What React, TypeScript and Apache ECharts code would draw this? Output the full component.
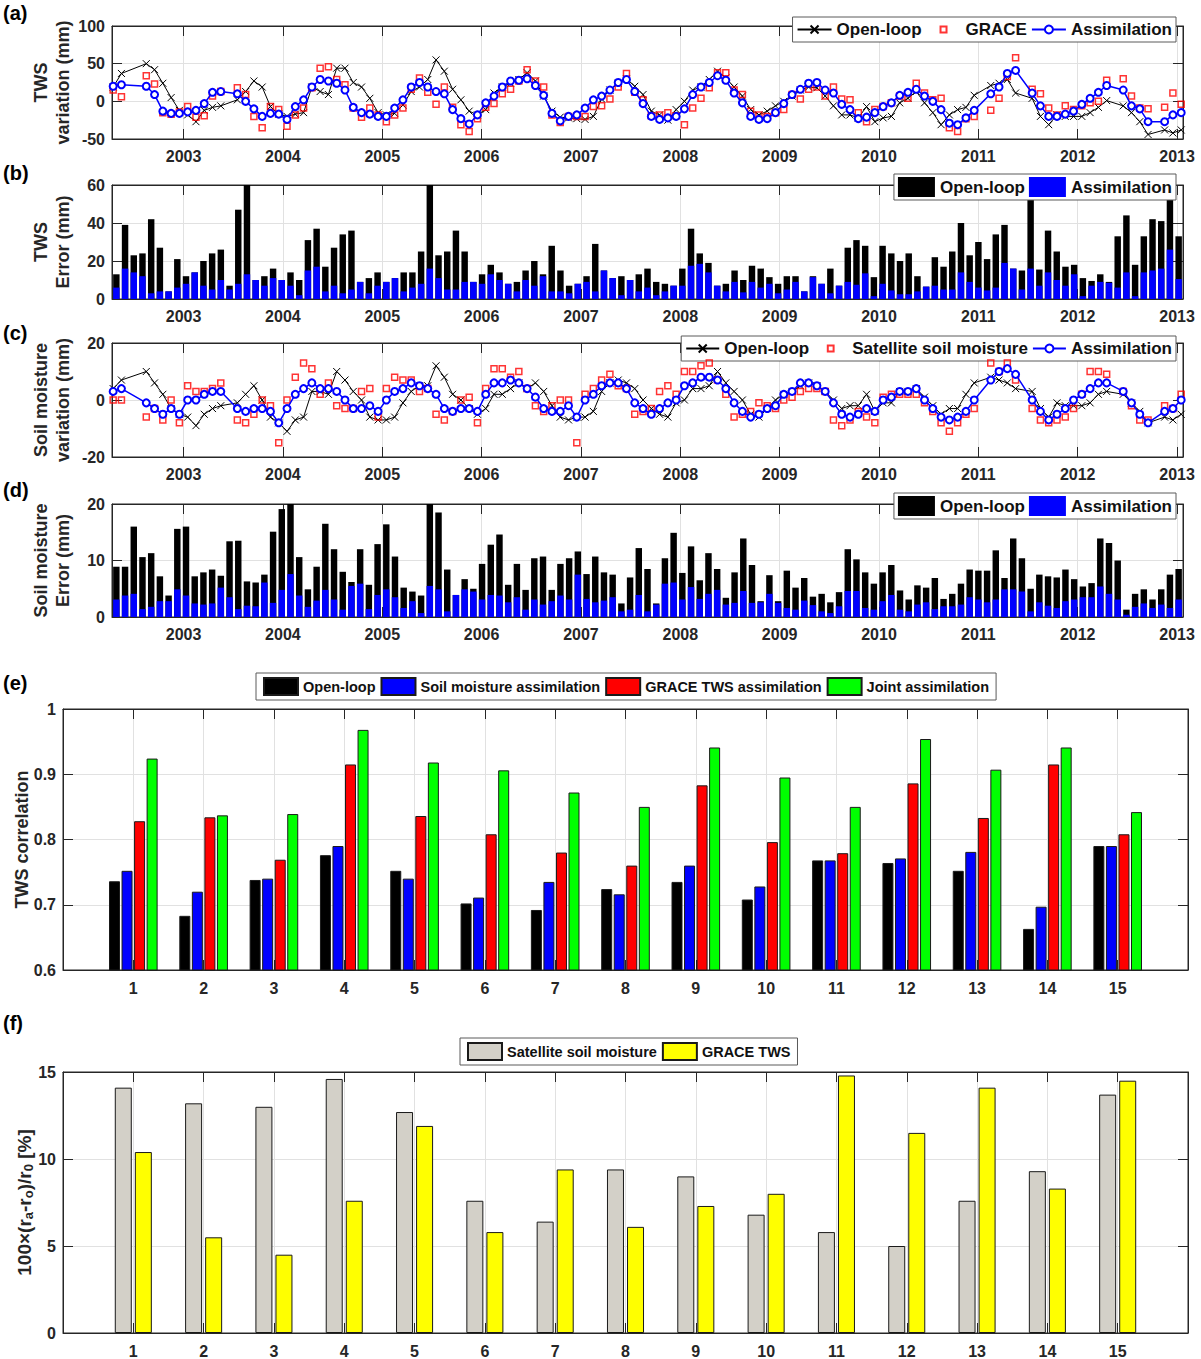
import React, { useEffect, useRef } from 'react';
import * as echarts from 'echarts';

const FONT = '"Liberation Sans", Arial, Helvetica, sans-serif';
const AX = '#262626';
const GRIDC = '#e1e1e1';

// ---------- time base ----------
const GAP_MONTHS = ['2002-06', '2002-07', '2003-06', '2011-01', '2011-06', '2012-05', '2012-10'];
function buildMonths(): string[] {
  const out: string[] = [];
  let y = 2002;
  let m = 4;
  while (y < 2013 || (y === 2013 && m <= 1)) {
    const k = `${y}-${String(m).padStart(2, '0')}`;
    if (!GAP_MONTHS.includes(k)) out.push(k);
    m++;
    if (m > 12) { m = 1; y++; }
  }
  return out;
}
const MONTHS = buildMonths();
const toYear = (k: string) => { const [y, m] = k.split('-').map(Number); return y + (m - 0.5) / 12; };
const T = MONTHS.map(toYear);
const YEAR_TICKS = [2003, 2004, 2005, 2006, 2007, 2008, 2009, 2010, 2011, 2012, 2013];
const T_MIN = 2002.28;
const T_MAX = 2013.06;

// ---------- (a) TWS variation (mm) ----------
const twsOpenLoop = [
  19, 37, 50, 42, 24, 5, -12,
  -18, -27, -12, -8, -6, 2, 13, 27, 19, -7, -17,
  -20, -17, -15, 19, 13, 9, 44, 44, 25, 19, 4, -15,
  -18, -16, -5, 13, 19, 29, 55, 40, 16, 2, -13, -18,
  -11, 11, 19, 24, 29, 38, 27, 7, -13, -21, -22, -23,
  -24, -20, 3, 15, 24, 30, 20, 9, -13, -18, -25, -11,
  0, 15, 19, 29, 40, 31, 19, 7, -11, -18, -13, -6,
  0, 7, 15, 19, 18, 7, -6, -18, -18, -22, -7, -27,
  -22, -20, -2, 4, 13, -2, -15, -31, -18, -11, -8, 8,
  21, 24, 29, 11, 4, -20, -31, -18, -20, -20,
  -20, -15, -8, 1, -6, -15, -27, -44, -38, -42,
  -38,
];
const twsGrace = [
  15, 6, 34, 23, -15, -17, -14,
  -7, -21, -19, 7, 13, 18, 9, -20, -35, -7, -11,
  -33, -18, -9, 18, 44, 46, 29, 22, -9, -21, -9, -18,
  -27, -18, -9, 16, 31, 12, -4, 19, -8, -31, -40, -23,
  -8, -3, 10, 16, 27, 42, 27, 19, -18, -28, -20, -20,
  -20, -7, -6, 3, 19, 37, 12, 2, -19, -18, -15, -19,
  -31, -9, 4, 18, 38, 38, 15, 9, -13, -18, -20, -15,
  -11, 9, 3, 16, 19, 7, 19, 3, 2, -15, -27, -11,
  -7, -2, 7, 4, 24, 11, 2, 4, -35, -40, -23, -20,
  -12, 4, 33, 58, 16, 10, -9, -18, -6, -11,
  -6, -2, 0, 28, 30, 7, -9, -10, -8, 11,
  -4,
];
const twsAssim = [
  20, 22, 20, 9, -13, -16, -16,
  -14, -12, -3, 12, 13, 10, 0, -10, -20, -16, -17,
  -24, -7, 2, 19, 29, 27, 24, 15, -8, -15, -17, -20,
  -20, -9, 2, 19, 25, 19, 13, 10, -11, -23, -30, -18,
  -2, 7, 19, 27, 28, 30, 21, 8, -16, -26, -20, -18,
  -9, 2, 7, 15, 25, 29, 13, -3, -20, -24, -22, -20,
  -10, 9, 19, 25, 34, 28, 11, -2, -20, -24, -23, -15,
  -3, 9, 16, 24, 25, 15, 11, -4, -11, -23, -21, -15,
  -7, -2, 8, 12, 16, 7, 0, -11, -29, -31, -22, -12,
  10, 19, 37, 41, 11, -6, -20, -20, -17, -13,
  -4, 4, 12, 21, 15, -6, -10, -27, -27, -18,
  -15,
];

// ---------- (b) TWS error (mm) ----------
const twsErrOpenLoop = [
  13, 39, 23, 24, 42, 27, 4, 21, 12, 14, 20, 24, 26, 7, 47, 65, 10, 12, 16, 10,
  14, 10, 31, 37, 17, 27, 34, 36, 9, 11, 14, 9, 11, 14, 14, 25, 65, 23, 25, 36,
  25, 9, 13, 18, 14, 8, 9, 15, 20, 13, 28, 15, 7, 8, 12, 29,
  15, 11, 12, 10, 13, 16, 9, 8, 7, 16, 37, 24, 19, 7, 8, 15, 10, 17.5, 16, 11.5,
  8, 12, 12, 4, 12, 8, 16, 7, 27, 31, 28, 11.5, 28, 24, 20, 24, 12, 6.5, 22, 17,
  25, 40, 23, 30, 21, 34, 39, 16, 15, 65, 15.5, 36, 25, 17, 18, 11, 9.5, 13, 9, 33,
  44, 18, 33, 42, 41, 65, 33,
];
const twsErrAssim = [
  6, 16, 14, 12, 3, 4, 4, 6, 8, 14, 7, 5, 10, 5, 8, 13, 10, 7, 11, 10,
  7, 2, 15, 17, 4, 7, 3, 5, 9, 3, 7, 9, 11, 4, 6, 8, 16, 11, 5, 5,
  9, 9, 8, 13, 10, 8, 4, 10, 7, 12, 4, 4, 3, 8, 9, 4,
  15, 11, 2, 10, 4, 6, 2, 4, 7, 7, 17.5, 18.5, 14, 7, 4, 9, 3.5, 9, 6, 8,
  3, 5, 9, 4, 11.5, 8, 3, 7, 9, 7.5, 13.5, 1.5, 8, 4.5, 2.5, 2.5, 4, 6.5, 7, 5,
  5, 14, 9, 6, 4.5, 6, 19, 16, 5, 16, 7, 14, 10, 7, 13, 1.5, 7, 9, 8.5, 6,
  14, 1.5, 14, 15, 16, 26, 10.5,
];

// ---------- (c) Soil moisture variation (mm) ----------
const smOpenLoop = [
  4, 7, 10, 6, 2, -3, -5,
  -6, -9, -5, -3, -2, -1, 2, 5, 0, -6, -8,
  -11, -7, -6, 3, 3, 2, 10, 7, 3, 0, -6, -7,
  -7, -6, -1, 3, 5, 5, 12, 8, 2, 0, -3, -5,
  -3, 2, 2, 4, 6, 4, 6, 3, -2, -6, -7, -6,
  -6, -4, 3, 6, 7, 6, 4, 0, -3, -5, -6, -1,
  0, 4, 4, 5, 10, 6, 3, 0, -5, -6, -3, 0,
  2, 3, 5, 6, 5, 3, 0, -3, -2, -2, 2, -4,
  -1, -1, 3, 3, 4, 1, -2, -5, -3, -3, 2, 6,
  8, 7, 6, 4, 3, -3, -6, -1, -2, -2,
  -2, -1, 2, 3, 2, -1, -4, -8, -6, -7,
  -5,
];
const smSatellite = [
  0, 0, -6, -3, -7, 0, -8,
  5, 3, 3, 4, 6, -7, -8, -5, 0, -2, -15,
  0, 8, 13, 11, 2, 6, -2, -3, -3, 3, 4, -6,
  4, 8, 7, 7, 3, 4, -5, -7, -4, 0, 1, -8,
  4, 11, 11, 8, 10, 4, -2, -4, -2, 0, 0, -15,
  2, 4, 7, 9, 5, 4, -5, -4, -3, 3, 5, 2,
  10, 10, 12, 13, 7, 2, -6, -5, -4, -1, -2, -3,
  0, 1, 3, 4, 4, 3, -7, -9, -7, -4, -6, -8,
  1, 2, 2, 2, 2, -1, -4, -8, -11, -8, -5, -3,
  13, 10, 13, 7, -3, -7, -8, -7, -6, -3,
  2, 10, 10, 9, 3, -2, -7, -7, -2, -3,
  2,
];
const smAssim = [
  3, 4, -1, -3, -5, -3, -5,
  0, 0, 2, 3, 3, -3, -4, -3, -3, -4, -8,
  -3, 2, 4, 6, 4, 4, 3, 0, -3, -3, -2, -4,
  0, 3, 4, 6, 5, 4, 2, -3, -4, -3, -3, -4,
  2, 6, 6, 7, 6, 4, 1, -3, -4, -4, -2, -6,
  0, 2, 5, 6, 6, 4, -1, -3, -5, -3, -1, 0,
  5, 6, 8, 8, 7, 4, -1, -4, -6, -5, -3, -2,
  2, 3, 6, 6, 5, 3, -1, -5, -6, -5, -3, -4,
  0, 1, 3, 3, 4, 0, -3, -6, -7, -6, -4, 0,
  7, 10, 11, 9, 0, -4, -7, -5, -3, 0,
  2, 4, 6, 6, 3, -1, -5, -8, -4, -3,
  0,
];

// ---------- (d) Soil moisture error (mm) ----------
const smErrOpenLoop = [
  8.9, 8.9, 16, 10.6, 11.3, 7.2, 3.8, 15.6, 16, 7.2, 7.9, 8.4, 7.3, 13.4, 13.5, 6.3, 6.1, 7.5, 15.1, 19.1,
  21, 10.6, 4.9, 8.9, 16.5, 12, 8, 6.2, 12, 5.7, 12.9, 16.4, 10.7, 5.2, 4.5, 3.8, 21, 18.5, 8.4, 3.9,
  6.7, 5, 9.4, 12.8, 14.6, 5.7, 9.4, 4.8, 10.4, 10.7, 4.8, 9.4, 10.4, 11.6, 7.6, 10.7,
  7.9, 7.5, 2.4, 7, 12.2, 8.5, 2.4, 10.4, 14.9, 7.8, 12.5, 6.5, 11.3, 8.5, 3.4, 7.9, 13.9, 9.2, 2.8, 7.4,
  2.8, 8.2, 5.2, 6.9, 3.6, 4.1, 2.6, 4.4, 12, 10.2, 7.9, 5.9, 7.9, 9.2, 4.7, 3.1, 5.6, 5.2, 6.9, 3.2,
  4.1, 5.9, 8.4, 8.2, 8.2, 11.8, 6.9, 13.9, 10.4, 5, 7.5, 7.2, 7, 8.4, 6.7, 5.4, 6, 13.9, 13.1, 10,
  1.3, 4.1, 4.9, 3.1, 4.9, 7.5, 8.5,
];
const smErrAssim = [
  3.1, 3.8, 4.1, 1.4, 1.8, 2.8, 2.8, 4.9, 3.8, 2.4, 2.2, 2.4, 5.2, 3.5, 1.4, 2, 1.9, 6.1, 2.5, 4.8,
  7.6, 3.8, 1.8, 2.9, 4.8, 3.1, 1.3, 5.5, 5.9, 1.4, 3.9, 4.9, 3.5, 1.6, 2.8, 0.7, 5.5, 4.9, 1, 3.9,
  4.9, 4.5, 3.1, 3.9, 3.8, 2.6, 3.5, 1.3, 3.1, 2.2, 2.8, 3.8, 3.1, 7.5, 3.2, 2.6,
  2.9, 3.5, 1, 1.3, 3.9, 1, 2.2, 5.9, 6.1, 3.1, 5.3, 3.2, 4.1, 4.8, 2.2, 2.5, 4.6, 2.5, 2.6, 4.1,
  2.5, 1.6, 1.3, 2.9, 2.1, 1, 0.7, 1.9, 4.6, 4.6, 1.6, 1.3, 2.8, 3.9, 1.3, 1, 2.2, 2.6, 1.4, 1.9,
  1.9, 2.2, 3.5, 3.1, 2.6, 3.1, 4.9, 4.9, 4.5, 1, 2.6, 2, 1.6, 2.8, 3.1, 3.5, 3.5, 5.4, 4.1, 3.1,
  0.4, 1.8, 2.4, 1.6, 2.2, 1.6, 3.1,
];

// ---------- (e) TWS correlation per basin ----------
const BASINS = ['1', '2', '3', '4', '5', '6', '7', '8', '9', '10', '11', '12', '13', '14', '15'];
const corrOpenLoop = [0.736, 0.683, 0.738, 0.776, 0.752, 0.702, 0.692, 0.724, 0.735, 0.708, 0.768, 0.764, 0.752, 0.663, 0.790];
const corrSoilAssim = [0.752, 0.720, 0.740, 0.790, 0.740, 0.711, 0.735, 0.716, 0.760, 0.728, 0.768, 0.771, 0.781, 0.697, 0.790];
const corrGraceAssim = [0.828, 0.834, 0.769, 0.915, 0.836, 0.808, 0.780, 0.760, 0.883, 0.796, 0.779, 0.886, 0.833, 0.915, 0.808];
const corrJoint = [0.924, 0.837, 0.839, 0.968, 0.918, 0.906, 0.872, 0.850, 0.941, 0.895, 0.850, 0.954, 0.907, 0.941, 0.842];

// ---------- (f) relative improvement (%) ----------
const imprSatellite = [14.1, 13.2, 13.0, 14.6, 12.7, 7.6, 6.4, 9.4, 9.0, 6.8, 5.8, 5.0, 7.6, 9.3, 13.7];
const imprGrace = [10.4, 5.5, 4.5, 7.6, 11.9, 5.8, 9.4, 6.1, 7.3, 8.0, 14.8, 11.5, 14.1, 8.3, 14.5];

// ---------- helpers ----------
const tickFont = (size: number) => ({ fontFamily: FONT, fontWeight: 'bold', fontSize: size, color: AX });
const nameFont = (size: number, extra: any = {}) => ({ fontFamily: FONT, fontWeight: 'bold', fontSize: size, color: AX, lineHeight: 22, ...extra });
const axisLine = { show: true, onZero: false, lineStyle: { color: AX, width: 1 } };

function timeAxes(gridIndex: number) {
  return [
    {
      type: 'value', gridIndex, position: 'bottom', min: T_MIN, max: T_MAX,
      axisLine,
      axisTick: { show: true, inside: true, length: 10, customValues: YEAR_TICKS, lineStyle: { color: AX } },
      axisLabel: { show: true, customValues: YEAR_TICKS, formatter: (v: number) => String(Math.round(v)), margin: 9, ...tickFont(16) },
      splitLine: { show: true, lineStyle: { color: GRIDC, width: 1 } },
    },
    {
      type: 'value', gridIndex, position: 'top', min: T_MIN, max: T_MAX,
      axisLine,
      axisTick: { show: true, inside: true, length: 10, customValues: YEAR_TICKS, lineStyle: { color: AX } },
      axisLabel: { show: false },
      splitLine: { show: false },
    },
  ];
}
function hiddenCat(gridIndex: number, data: string[]) {
  return { type: 'category', gridIndex, data, show: false, boundaryGap: true, axisTick: { show: false }, axisLabel: { show: false }, axisLine: { show: false }, splitLine: { show: false } };
}
function basinAxes(gridIndex: number) {
  const cats = ['0', ...BASINS, '16'];
  const base = { type: 'category', gridIndex, data: cats, boundaryGap: false };
  return [
    {
      ...base, position: 'bottom', axisLine,
      axisTick: { show: true, inside: true, length: 10, interval: 0, lineStyle: { color: AX } },
      axisLabel: { show: true, interval: 0, margin: 10, formatter: (v: string) => (v === '0' || v === '16' ? '' : v), ...tickFont(16) },
      splitLine: { show: true, interval: 0, lineStyle: { color: GRIDC } },
    },
    {
      ...base, position: 'top', axisLine,
      axisTick: { show: true, inside: true, length: 10, interval: 0, lineStyle: { color: AX } },
      axisLabel: { show: false }, splitLine: { show: false },
    },
  ];
}
function yAxes(gridIndex: number, min: number, max: number, interval: number, name: string, nameGap: number, nameStyle: any, labelSize = 16) {
  return [
    {
      type: 'value', gridIndex, position: 'left', min, max, interval,
      axisLine,
      axisTick: { show: true, inside: true, length: 10, lineStyle: { color: AX } },
      axisLabel: { show: true, margin: 7, ...tickFont(labelSize) },
      splitLine: { show: true, lineStyle: { color: GRIDC } },
      name, nameLocation: 'middle', nameRotate: 90, nameGap, nameMoveOverlap: false,
      nameTextStyle: nameStyle,
    },
    {
      type: 'value', gridIndex, position: 'right', min, max, interval,
      axisLine,
      axisTick: { show: true, inside: true, length: 10, lineStyle: { color: AX } },
      axisLabel: { show: false }, splitLine: { show: false },
    },
  ];
}

const CROSS = 'path://M0,0L10,10M10,0L0,10';
const SQUARE_ICON = 'path://M0,0M34,10M14,2h6v6h-6z';
const pairs = (vals: number[]) => T.map((t, i) => [t, vals[i]]);

function olLine(name: string, xi: number, yi: number, vals: number[]) {
  return {
    name, type: 'line', xAxisIndex: xi, yAxisIndex: yi, data: pairs(vals),
    symbol: CROSS, symbolSize: 7, showAllSymbol: true,
    lineStyle: { color: '#000', width: 1 },
    itemStyle: { color: '#000', borderColor: '#000', borderWidth: 1 },
    z: 3,
  };
}
function obsScatter(name: string, xi: number, yi: number, vals: number[]) {
  return {
    name, type: 'scatter', xAxisIndex: xi, yAxisIndex: yi, data: pairs(vals),
    symbol: 'rect', symbolSize: 6,
    itemStyle: { color: 'rgba(0,0,0,0)', borderColor: '#ff0000', borderWidth: 1.5 },
    z: 4,
  };
}
function asLine(name: string, xi: number, yi: number, vals: number[]) {
  return {
    name, type: 'line', xAxisIndex: xi, yAxisIndex: yi, data: pairs(vals),
    symbol: 'emptyCircle', symbolSize: 7, showAllSymbol: true,
    lineStyle: { color: '#0000ff', width: 1.5 },
    itemStyle: { color: '#0000ff', borderWidth: 1.2 },
    z: 5,
  };
}
function errBar(name: string, xi: number, yi: number, vals: number[], color: string) {
  return {
    name, type: 'bar', xAxisIndex: xi, yAxisIndex: yi, data: vals,
    barWidth: '74%', barGap: '-100%',
    itemStyle: { color },
  };
}
function basinBar(name: string, xi: number, yi: number, vals: number[], color: string, width: number, gap: string) {
  return {
    name, type: 'bar', xAxisIndex: xi, yAxisIndex: yi, data: [null, ...vals, null],
    barWidth: width, barGap: gap,
    itemStyle: { color, borderColor: '#1a1a1a', borderWidth: 1 },
  };
}

const legendBase = (size: number) => ({
  orient: 'horizontal', backgroundColor: '#fff', borderColor: '#5a5a5a', borderWidth: 1, borderRadius: 0,
  selectedMode: false, formatter: (n: string) => n.slice(2),
  textStyle: { fontFamily: FONT, fontWeight: 'bold', fontSize: size, color: '#111' },
});

function buildOption() {
  const xAxis = [
    ...timeAxes(0),                 // 0,1  (a)
    hiddenCat(1, MONTHS),           // 2    (b) bars
    ...timeAxes(1),                 // 3,4  (b)
    ...timeAxes(2),                 // 5,6  (c)
    hiddenCat(3, MONTHS),           // 7    (d) bars
    ...timeAxes(3),                 // 8,9  (d)
    ...basinAxes(4),                // 10,11 (e)
    ...basinAxes(5),                // 12,13 (f)
  ];
  const yAxis = [
    ...yAxes(0, -50, 100, 50, 'TWS\nvariation (mm)', 38, nameFont(18)),
    ...yAxes(1, 0, 60, 20, 'TWS\nError (mm)', 38, nameFont(18)),
    ...yAxes(2, -20, 20, 20, 'Soil moisture\nvariation (mm)', 38, nameFont(18)),
    ...yAxes(3, 0, 20, 10, 'Soil moisture\nError (mm)', 38, nameFont(18)),
    ...yAxes(4, 0.6, 1, 0.1, 'TWS correlation', 30, nameFont(18), 16),
    ...yAxes(5, 0, 15, 5, '100×(r{s|a}-r{s|o})/r{s|0} [%]', 28,
      nameFont(19, { rich: { s: { fontFamily: FONT, fontWeight: 'bold', fontSize: 13, color: AX, verticalAlign: 'bottom', lineHeight: 22, padding: [7, 0, 0, 0] } } }), 16),
  ];

  const series: any[] = [
    olLine('a:Open-loop', 0, 0, twsOpenLoop),
    obsScatter('a:GRACE', 0, 0, twsGrace),
    asLine('a:Assimilation', 0, 0, twsAssim),
    errBar('b:Open-loop', 2, 2, twsErrOpenLoop, '#000000'),
    errBar('b:Assimilation', 2, 2, twsErrAssim, '#0000ff'),
    olLine('c:Open-loop', 5, 4, smOpenLoop),
    obsScatter('c:Satellite soil moisture', 5, 4, smSatellite),
    asLine('c:Assimilation', 5, 4, smAssim),
    errBar('d:Open-loop', 7, 6, smErrOpenLoop, '#000000'),
    errBar('d:Assimilation', 7, 6, smErrAssim, '#0000ff'),
    basinBar('e:Open-loop', 10, 8, corrOpenLoop, '#000000', 11, '14%'),
    basinBar('e:Soil moisture assimilation', 10, 8, corrSoilAssim, '#0000ff', 11, '14%'),
    basinBar('e:GRACE TWS assimilation', 10, 8, corrGraceAssim, '#ff0000', 11, '14%'),
    basinBar('e:Joint assimilation', 10, 8, corrJoint, '#00ff00', 11, '14%'),
    basinBar('f:Satellite soil moisture', 12, 10, imprSatellite, '#d3d0c8', 17, '18%'),
    basinBar('f:GRACE TWS', 12, 10, imprGrace, '#ffff00', 17, '18%'),
  ];

  const legend = [
    { ...legendBase(17), right: 25, top: 17, padding: [4, 4], itemGap: 4, itemWidth: 34, itemHeight: 10,
      data: ['a:Open-loop', { name: 'a:GRACE', icon: SQUARE_ICON }, 'a:Assimilation'] },
    { ...legendBase(17), right: 25, top: 174, padding: [3, 4], itemGap: 4, itemWidth: 37, itemHeight: 20, icon: 'rect',
      data: ['b:Open-loop', 'b:Assimilation'] },
    { ...legendBase(17), right: 25, top: 336, padding: [4, 4], itemGap: 4, itemWidth: 33, itemHeight: 10,
      data: ['c:Open-loop', { name: 'c:Satellite soil moisture', icon: SQUARE_ICON }, 'c:Assimilation'] },
    { ...legendBase(17), right: 25, top: 493, padding: [3, 4], itemGap: 4, itemWidth: 37, itemHeight: 20, icon: 'rect',
      data: ['d:Open-loop', 'd:Assimilation'] },
    { ...legendBase(14.5), left: 256, top: 673, padding: [4, 7], itemGap: 5, itemWidth: 34, itemHeight: 17, icon: 'rect',
      data: ['e:Open-loop', 'e:Soil moisture assimilation', 'e:GRACE TWS assimilation', 'e:Joint assimilation'] },
    { ...legendBase(14.5), left: 460, top: 1038, padding: [4, 7], itemGap: 5, itemWidth: 34, itemHeight: 17, icon: 'rect',
      data: ['f:Satellite soil moisture', 'f:GRACE TWS'] },
  ];

  const panelLabel = (text: string, top: number) => ({
    type: 'text', left: 3, top,
    style: { text, fontFamily: FONT, fontWeight: 'bold', fontSize: 20, fill: '#000' },
  });

  const gridBase = { show: true, borderColor: AX, borderWidth: 1, backgroundColor: 'transparent', outerBoundsMode: 'none', containLabel: false };

  return {
    animation: false,
    backgroundColor: '#ffffff',
    textStyle: { fontFamily: FONT },
    grid: [
      { ...gridBase, left: 112, width: 1071, top: 26, height: 113 },
      { ...gridBase, left: 112, width: 1071, top: 185, height: 114 },
      { ...gridBase, left: 112, width: 1071, top: 343, height: 114 },
      { ...gridBase, left: 112, width: 1071, top: 504, height: 113 },
      { ...gridBase, left: 63, width: 1125, top: 709, height: 261 },
      { ...gridBase, left: 63, width: 1125, top: 1072, height: 261 },
    ],
    xAxis,
    yAxis,
    legend,
    series,
    graphic: [
      panelLabel('(a)', 3),
      panelLabel('(b)', 163),
      panelLabel('(c)', 323),
      panelLabel('(d)', 480),
      panelLabel('(e)', 673),
      panelLabel('(f)', 1013),
    ],
  };
}

export default function App() {
  const ref = useRef<HTMLDivElement | null>(null);
  useEffect(() => {
    if (!ref.current) return;
    const chart = echarts.init(ref.current, undefined, { renderer: 'svg' });
    chart.setOption(buildOption() as any);
    return () => chart.dispose();
  }, []);
  return (
    <div
      ref={ref}
      style={{ position: 'absolute', left: 0, top: 0, width: 1201, height: 1359, background: '#fff' }}
    />
  );
}
